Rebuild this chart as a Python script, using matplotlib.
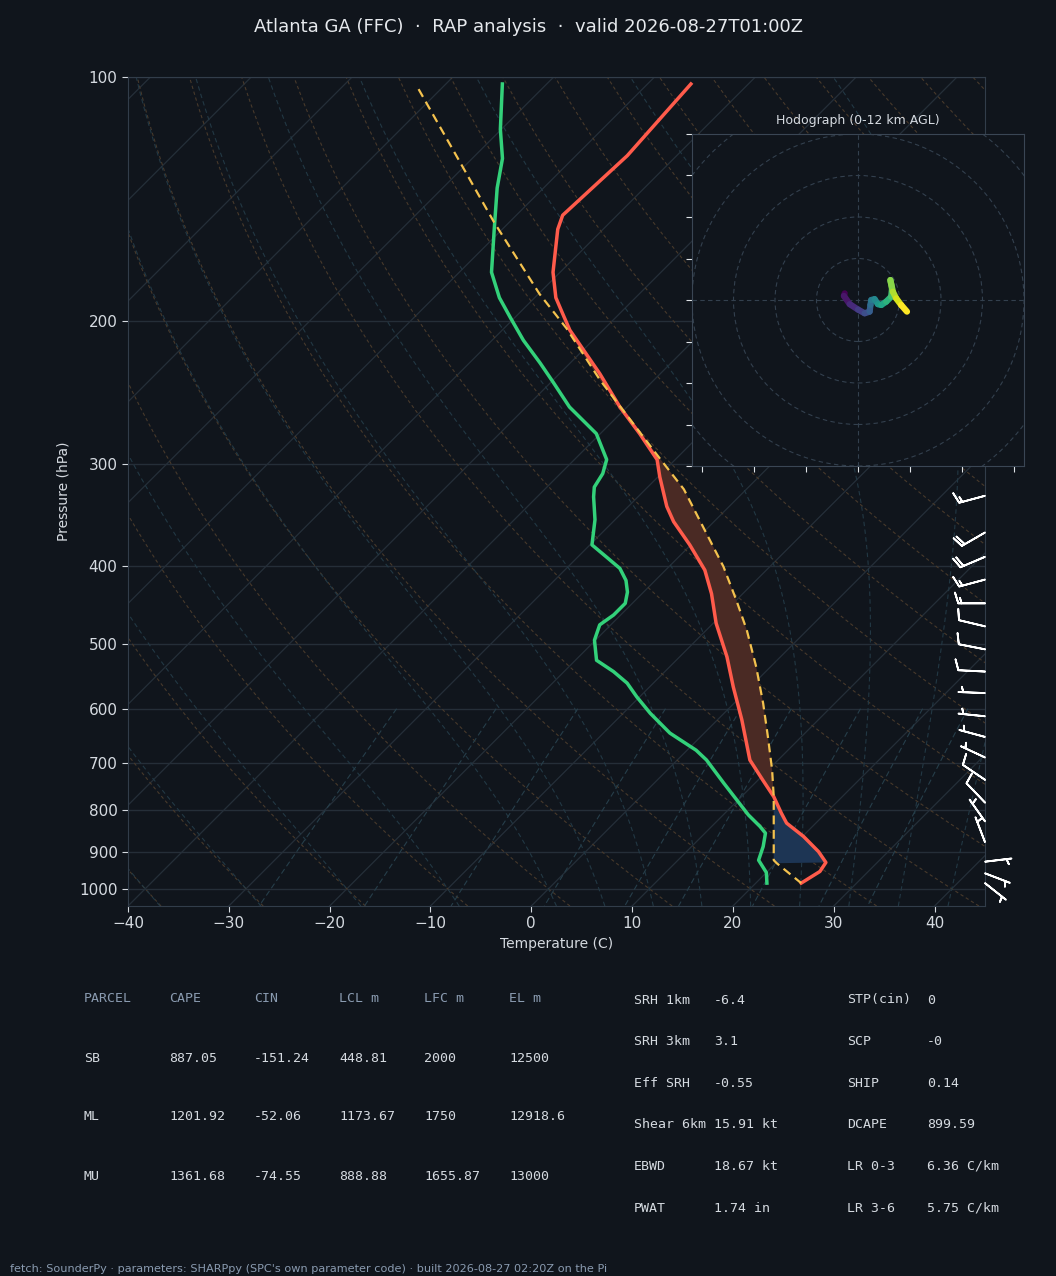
import numpy as np
import matplotlib
matplotlib.use("Agg")
import matplotlib.pyplot as plt
from matplotlib.transforms import Affine2D
from matplotlib.collections import LineCollection
from matplotlib.patches import Circle
from matplotlib.ticker import NullLocator

# ---- sounding (hPa, degC) ----
temp_p = [102, 125, 148, 154, 174, 187, 197, 205, 232, 255, 275, 296, 311, 338, 353, 377,
          405, 433, 471, 518, 564, 619, 694, 735, 770, 807, 830, 862, 900, 928, 952, 984]
temp_c = [-65.7, -64.9, -65.4, -64.5, -60.7, -57.9, -55.3, -53.3, -46.0, -40.7, -36.1, -31.8,
          -29.8, -26.2, -24.0, -20.1, -16.1, -13.1, -9.7, -5.3, -1.7, 2.4, 7.2, 10.5, 13.2,
          15.6, 17.1, 20.1, 23.1, 24.9, 25.2, 24.5]

dwpt_p = [102, 116, 126, 137, 154, 174, 187, 198, 211, 225, 238, 255, 275, 296, 308, 320, 329,
          351, 377, 390, 403, 417, 431, 445, 460, 473, 494, 523, 540, 558, 580, 608, 643, 675,
          694, 741, 811, 838, 854, 887, 922, 955, 984]
dwpt_c = [-84.4, -80.1, -77.0, -74.6, -70.8, -66.8, -63.5, -60.4, -56.9, -53.0, -49.7, -45.7,
          -40.4, -36.8, -35.8, -35.3, -34.4, -32.0, -29.8, -27.2, -24.7, -22.9, -21.6, -20.7,
          -20.7, -21.1, -20.1, -17.9, -15.1, -12.6, -10.3, -7.3, -3.4, 0.9, 2.9, 6.9, 12.5,
          14.8, 16.0, 17.1, 18.0, 20.0, 21.1]

parcel_p = [103.5, 151, 185, 204, 236, 267, 291, 322, 358, 401, 441, 480, 533, 591, 650, 714,
            770, 922, 930, 984]
parcel_c = [-92.2, -71.5, -59.9, -53.8, -45.4, -37.8, -32.5, -26.2, -20.6, -14.6, -10.0, -6.0,
            -1.4, 2.9, 6.7, 10.4, 13.2, 19.5, 20.1, 24.5]

lcl_p = 930
lfc_p = 770
el_p = 204

# ---- wind barbs (hPa, kt) ----
wind_p = [328, 364, 390, 416, 445, 475, 507, 540, 574, 613, 650, 689, 734, 783, 826, 876, 926, 957, 984]
wind_u = [14.5, 17.3, 18.4, 14.5, 15.0, 9.7, 9.8, 10.0, 5.0, 5.0, 4.8, 4.5, 8.3, 6.9, 2.9, 1.8, -5.0, -4.7, -3.9]
wind_v = [3.9, 10.0, 7.8, 3.9, 0.0, -2.3, -1.9, -0.5, -0.2, -0.5, -1.3, -2.1, -5.6, -7.2, -4.1, -4.7, -0.6, 1.8, 3.1]

# ---- hodograph trace (kt), surface first ----
hodo_u = [-3.2, -3.4, -2.0, 0.0, 1.6, 2.8, 3.0, 3.2, 4.0, 4.8, 5.6, 6.8, 8.0, 8.2, 7.8, 8.4, 9.2, 10.4, 11.8]
hodo_v = [1.6, 1.0, -1.0, -2.3, -3.2, -2.8, -1.2, 0.0, 0.2, -1.0, -1.2, -0.4, 0.8, 2.8, 4.8, 2.0, 0.4, -1.2, -2.8]

# ---- parameter tables ----
parcel_header = ["PARCEL", "CAPE", "CIN", "LCL m", "LFC m", "EL m"]
parcel_rows = [["SB", "887.05", "-151.24", "448.81", "2000", "12500"],
               ["ML", "1201.92", "-52.06", "1173.67", "1750", "12918.6"],
               ["MU", "1361.68", "-74.55", "888.88", "1655.87", "13000"]]
index_rows = [("SRH 1km", "-6.4", "STP(cin)", "0"),
              ("SRH 3km", "3.1", "SCP", "-0"),
              ("Eff SRH", "-0.55", "SHIP", "0.14"),
              ("Shear 6km", "15.91 kt", "DCAPE", "899.59"),
              ("EBWD", "18.67 kt", "LR 0-3", "6.36 C/km"),
              ("PWAT", "1.74 in", "LR 3-6", "5.75 C/km")]

title = "Atlanta GA (FFC)  \u00b7  RAP analysis  \u00b7  valid 2026-08-27T01:00Z"
footer = ("fetch: SounderPy \u00b7 parameters: SHARPpy (SPC's own parameter code) \u00b7 "
          "built 2026-08-27 02:20Z on the Pi")

# colours
bg = "#10151c"
fg = "#d5dae0"
dim = "#8a9bb0"
spine_c = "#323d4a"
grid_c = "#252e38"

W, H = 1056, 1276


def fx(px):
    return px / W


def fy(py):
    return 1 - py / H


def moist_adiabat(t0, pres):
    # pseudo-adiabat integrated from pres[0] (RK2)
    def slope(tk, p):
        es = 6.112 * np.exp(17.67 * (tk - 273.15) / (tk - 29.65))
        rs = 0.622 * es / (p - es)
        return (287.04 * tk + 2.501e6 * rs) / (1005.7 + 2.501e6 ** 2 * rs * 0.622 / (287.04 * tk * tk)) / p
    t = t0 + 273.15
    out = [t]
    for p0, p1 in zip(pres[:-1], pres[1:]):
        h = p1 - p0
        k1 = slope(t, p0)
        k2 = slope(t + h * k1, p1)
        t = t + h * (k1 + k2) / 2
        out.append(t)
    return np.array(out) - 273.15


fig = plt.figure(figsize=(W / 100, H / 100), dpi=100, facecolor=bg)
ax = fig.add_axes([fx(128), fy(906), 857 / W, 829 / H], facecolor=bg)
ax.set_yscale("log")
ax.set_xlim(-40, 45)
ax.set_ylim(1050, 100)
ax.set_autoscale_on(False)

# skew-T: isotherms at 45 degrees on screen
k = 829 / 857
skew = ax.transScale + ax.transLimits + Affine2D().skew(np.arctan(k), 0) + ax.transAxes

# isotherms
for t in range(-130, 50, 10):
    ax.plot([t, t], [1050, 100], transform=skew, color="#252f39", lw=0.9, zorder=1)

# dry adiabats
p_all = np.linspace(1050, 100, 120)
for t0 in range(-40, 210, 10):
    tt = (t0 + 273.15) * (p_all / 1000.0) ** 0.2857 - 273.15
    ax.plot(tt, p_all, transform=skew, color="#47392b", lw=0.8, ls=(0, (3, 2.5)), zorder=1)

# moist adiabats
p_up = np.linspace(1000, 100, 180)
p_dn = np.linspace(1000, 1050, 10)
for t0 in list(range(-40, 0, 10)) + list(range(0, 46, 5)):
    up = moist_adiabat(t0, p_up)
    dn = moist_adiabat(t0, p_dn)
    ax.plot(np.concatenate([dn[::-1], up[1:]]), np.concatenate([p_dn[::-1], p_up[1:]]),
            transform=skew, color="#223844", lw=0.8, ls=(0, (4, 3)), zorder=1)

# mixing ratio lines
p_mix = np.linspace(600, 1050, 30)
for w in [0.0004, 0.001, 0.002, 0.004, 0.007, 0.01, 0.016, 0.024, 0.032]:
    e = p_mix * w / (0.622 + w)
    lg = np.log(e / 6.112)
    td = 243.5 * lg / (17.67 - lg)
    ax.plot(td, p_mix, transform=skew, color="#263e4a", lw=0.8, ls=(0, (5, 3)), zorder=1)

# CAPE / CIN shading
pp = np.array(parcel_p)
pc = np.array(parcel_c)
tp = np.array(temp_p)
tc = np.array(temp_c)
m1 = (pp >= el_p) & (pp <= lfc_p)
m2 = (tp >= el_p) & (tp <= lfc_p)
ax.fill(np.concatenate([pc[m1], tc[m2][::-1]]), np.concatenate([pp[m1], tp[m2][::-1]]),
        transform=skew, facecolor="#4a2a24", edgecolor="none", zorder=2)
m1 = (pp >= lfc_p) & (pp <= lcl_p)
m2 = (tp >= lfc_p) & (tp <= lcl_p)
ax.fill(np.concatenate([pc[m1], tc[m2][::-1]]), np.concatenate([pp[m1], tp[m2][::-1]]),
        transform=skew, facecolor="#1d3554", edgecolor="none", zorder=2)

# profiles
ax.plot(temp_c, temp_p, transform=skew, color="#ff5b4b", lw=2.5, zorder=4)
ax.plot(dwpt_c, dwpt_p, transform=skew, color="#33d17a", lw=2.5, zorder=4)
ax.plot(parcel_c, parcel_p, transform=skew, color="#f4c24e", lw=1.6, ls=(0, (4, 2.5)), zorder=5)

# wind barbs along the right edge
ax.barbs(np.ones(len(wind_p)), wind_p, wind_u, wind_v, transform=ax.get_yaxis_transform(),
         clip_on=False, color="white", length=6.2, linewidth=1.3, zorder=6)

# axes cosmetics
levels = [100, 200, 300, 400, 500, 600, 700, 800, 900, 1000]
ax.set_yticks(levels)
ax.set_yticklabels([str(l) for l in levels])
ax.yaxis.set_minor_locator(NullLocator())
ax.set_xticks(range(-40, 41, 10))
ax.yaxis.grid(True, color=grid_c, lw=1.0, zorder=1)
ax.set_axisbelow(True)
ax.tick_params(colors=fg, labelsize=11, length=4)
for s in ax.spines.values():
    s.set_color(spine_c)
ax.set_xlabel("Temperature (C)", color=fg, fontsize=10)
ax.set_ylabel("Pressure (hPa)", color=fg, fontsize=10, labelpad=6)

# hodograph inset
axh = fig.add_axes([fx(692), fy(466), 332 / W, 332 / H], facecolor=bg)
axh.set_xlim(-40, 40)
axh.set_ylim(-40, 40)
for r in range(10, 70, 10):
    axh.add_patch(Circle((0, 0), r, fill=False, ls=(0, (4, 3)), lw=0.8, color="#33404e"))
axh.axhline(0, color="#33404e", lw=0.8, ls=(0, (4, 3)))
axh.axvline(0, color="#33404e", lw=0.8, ls=(0, (4, 3)))
pts = np.column_stack([hodo_u, hodo_v])
segs = np.stack([pts[:-1], pts[1:]], axis=1)
lc = LineCollection(segs, cmap="viridis", linewidths=4.5, capstyle="round", zorder=3)
lc.set_array(np.arange(len(segs)))
axh.add_collection(lc)
axh.set_xticks([-37.5, -25, -12.5, 0, 12.5, 25, 37.5])
axh.set_yticks(range(-40, 41, 10))
axh.set_xticklabels([])
axh.set_yticklabels([])
axh.tick_params(colors="#e0e4e8", length=4)
for s in axh.spines.values():
    s.set_color("#3a4654")
axh.set_title("Hodograph (0-12 km AGL)", color=fg, fontsize=9, pad=7)

# title and footer
fig.text(0.5, fy(27), title, ha="center", va="center", color="#e6e9ed", fontsize=13)
fig.text(fx(10), fy(1269), footer, ha="left", va="center", color=dim, fontsize=8.15)

# parcel table
mono = "DejaVu Sans Mono"
cols = [84, 169, 254, 339, 424, 509]
for x, h in zip(cols, parcel_header):
    fig.text(fx(x), fy(999), h, ha="left", va="center", color=dim, fontsize=9.5, family=mono)
for i, row in enumerate(parcel_rows):
    for x, v in zip(cols, row):
        fig.text(fx(x), fy(1058 + 59 * i), v, ha="left", va="center", color=fg, fontsize=9.5, family=mono)

# index table
for i, row in enumerate(index_rows):
    y = fy(1000 + 41.6 * i)
    for x, v in zip([634, 714, 847, 927], row):
        fig.text(fx(x), y, v, ha="left", va="center", color=fg, fontsize=9.5, family=mono)

fig.savefig("out.png", dpi=100, facecolor=bg)
